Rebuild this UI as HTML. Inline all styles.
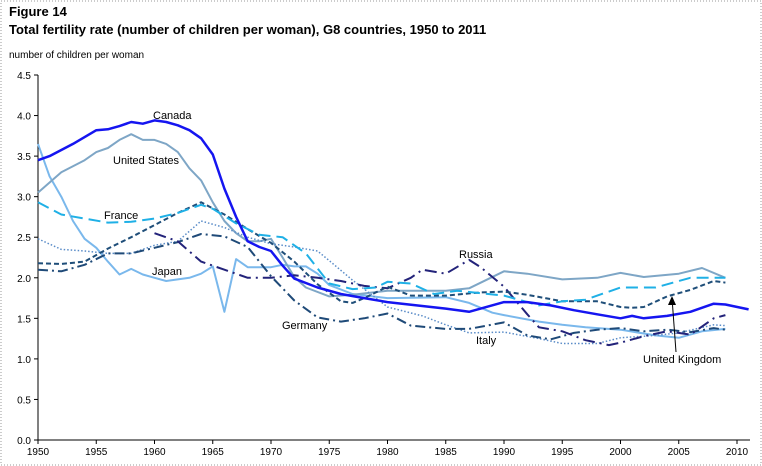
<!DOCTYPE html>
<html><head><meta charset="utf-8"><style>
body{margin:0;background:#fff;font-family:"Liberation Sans",Arial,sans-serif}
#wrap{position:relative;width:762px;height:466px}
.t{position:absolute;left:9px;font-weight:bold;font-size:13px;color:#000}
</style></head><body>
<div id="wrap">
<div class="t" style="top:4px">Figure 14</div>
<div class="t" style="top:22px">Total fertility rate (number of children per woman), G8 countries, 1950 to 2011</div>
<div style="position:absolute;left:9px;top:50px;font-size:10px">number of children per woman</div>
<svg id="c" width="762" height="466" style="position:absolute;left:0;top:0"></svg>
</div>
<script>
const yTicks=[0,0.5,1,1.5,2,2.5,3,3.5,4,4.5];
const xTicks=[1950,1955,1960,1965,1970,1975,1980,1985,1990,1995,2000,2005,2010];
const canadaYears=[1950,1951,1953,1955,1956,1957,1958,1959,1960,1961,1962,1963,1964,1965,1966,1967,1968,1969,1970,1971,1972,1974,1976,1978,1980,1985,1987,1990,1992,1994,1996,1998,2000,2001,2002,2004,2006,2008,2009,2011];
const canadaVals=[3.45,3.5,3.65,3.82,3.83,3.87,3.92,3.9,3.94,3.92,3.88,3.82,3.72,3.52,3.1,2.75,2.45,2.38,2.33,2.15,1.99,1.88,1.8,1.75,1.7,1.62,1.58,1.7,1.7,1.66,1.6,1.55,1.5,1.53,1.5,1.53,1.58,1.68,1.67,1.61];
const usYears=[1950,1952,1954,1955,1956,1957,1958,1959,1960,1961,1962,1963,1964,1965,1966,1967,1968,1969,1970,1971,1972,1973,1975,1977,1980,1985,1987,1990,1992,1995,1998,2000,2002,2005,2007,2009];
const usVals=[3.05,3.3,3.45,3.55,3.6,3.7,3.77,3.7,3.7,3.65,3.55,3.35,3.2,2.93,2.7,2.55,2.45,2.45,2.48,2.25,2.01,1.88,1.77,1.79,1.84,1.84,1.87,2.08,2.05,1.98,2.0,2.06,2.01,2.05,2.12,2.0];
const japanYears=[1950,1951,1952,1953,1954,1955,1956,1957,1958,1959,1960,1961,1962,1963,1964,1965,1966,1967,1968,1969,1970,1971,1972,1973,1974,1975,1977,1980,1985,1987,1989,1990,1993,1995,1997,2000,2003,2005,2007,2009];
const japanVals=[3.65,3.25,3.0,2.7,2.48,2.37,2.2,2.04,2.11,2.04,2.0,1.96,1.98,2.0,2.05,2.14,1.58,2.23,2.13,2.13,2.13,2.16,2.14,2.14,2.05,1.91,1.8,1.75,1.76,1.69,1.57,1.54,1.46,1.42,1.39,1.36,1.29,1.26,1.34,1.37];
const franceYears=[1950,1952,1954,1956,1958,1960,1962,1964,1965,1967,1969,1971,1973,1975,1977,1979,1980,1982,1984,1986,1988,1990,1993,1995,1997,2000,2003,2006,2009];
const franceVals=[2.93,2.78,2.73,2.68,2.69,2.73,2.8,2.9,2.85,2.67,2.53,2.5,2.3,1.93,1.86,1.88,1.95,1.93,1.8,1.84,1.81,1.78,1.66,1.71,1.73,1.88,1.88,2.0,2.0];
const ukYears=[1950,1952,1954,1956,1958,1960,1962,1964,1966,1968,1970,1972,1974,1976,1977,1978,1980,1982,1985,1988,1990,1992,1995,1998,2000,2001,2002,2004,2006,2008,2009];
const ukVals=[2.18,2.17,2.2,2.36,2.5,2.65,2.8,2.93,2.78,2.6,2.43,2.2,1.92,1.71,1.69,1.75,1.89,1.78,1.78,1.82,1.83,1.79,1.71,1.71,1.64,1.63,1.64,1.77,1.85,1.96,1.94];
const germanyYears=[1950,1952,1954,1956,1958,1960,1962,1964,1966,1968,1970,1972,1974,1976,1978,1980,1982,1985,1987,1990,1992,1994,1996,1998,2000,2002,2004,2006,2008,2009];
const germanyVals=[2.1,2.08,2.16,2.3,2.3,2.37,2.44,2.54,2.51,2.38,2.02,1.72,1.51,1.46,1.5,1.56,1.41,1.37,1.37,1.45,1.29,1.24,1.32,1.36,1.38,1.34,1.36,1.33,1.38,1.36];
const italyYears=[1950,1952,1954,1956,1958,1960,1962,1964,1966,1968,1970,1972,1974,1975,1977,1980,1983,1985,1987,1990,1993,1995,1998,2000,2003,2005,2008,2009];
const italyVals=[2.48,2.35,2.33,2.3,2.3,2.4,2.45,2.7,2.62,2.5,2.42,2.38,2.33,2.21,1.97,1.64,1.53,1.42,1.32,1.33,1.25,1.19,1.19,1.26,1.29,1.32,1.42,1.41];
const russiaYears=[1960,1962,1964,1966,1968,1970,1972,1974,1976,1978,1980,1982,1983,1985,1987,1988,1990,1992,1993,1995,1997,1999,2000,2002,2004,2006,2008,2009];
const russiaVals=[2.55,2.45,2.2,2.1,2.0,2.0,2.03,2.0,1.96,1.9,1.87,2.0,2.1,2.05,2.22,2.13,1.89,1.55,1.39,1.34,1.23,1.17,1.2,1.28,1.34,1.3,1.5,1.54];

const X0=38,X2010=737,XEND=750,Y0=440,Y1=75;
const xs=y=>X0+(y-1950)*(X2010-X0)/60;
const ys=v=>Y0-v*(Y0-Y1)/4.5;
const svg=document.getElementById('c');
const NS='http://www.w3.org/2000/svg';
function mk(t,a,p){const e=document.createElementNS(NS,t);for(const k in a)e.setAttribute(k,a[k]);(p||svg).appendChild(e);return e;}
const fr=mk('rect',{x:1,y:1,width:760,height:464,fill:'none',stroke:'#999','stroke-dasharray':'1,2'});


const ax=mk('line',{x1:X0,y1:Y1,x2:X0,y2:Y0,stroke:'#000'});


const axx=mk('line',{x1:X0,y1:Y0,x2:XEND,y2:Y0,stroke:'#000'});


yTicks.forEach(v=>{const y=ys(v);mk('line',{x1:X0-4,y1:y,x2:X0,y2:y,stroke:'#000'});
 const t=mk('text',{x:X0-7,y:y+4,'text-anchor':'end','font-size':10});t.textContent=v.toFixed(1);
 
 });
xTicks.forEach(v=>{const x=xs(v);mk('line',{x1:x,y1:Y0,x2:x,y2:Y0+4,stroke:'#000'});
 const t=mk('text',{x:x,y:Y0+15,'text-anchor':'middle','font-size':10});t.textContent=v;
 
 });
function line(name,yrs,vals,col,w,dash){
 const d=yrs.map((y,i)=>(i?'L':'M')+xs(y).toFixed(1)+','+ys(vals[i]).toFixed(1)).join('');
 const p=mk('path',{d:d,fill:'none',stroke:col,'stroke-width':w,'stroke-dasharray':dash||'none','stroke-linejoin':'round'});
 
 
}
line('series-japan',japanYears,japanVals,'#7ab8ec',2);
line('series-us',usYears,usVals,'#7ea6c6',2);
line('series-italy',italyYears,italyVals,'#5a8cc8',1.5,'1.5,2');
line('series-germany',germanyYears,germanyVals,'#1f4a78',2,'10,4,2,4');
line('series-russia',russiaYears,russiaVals,'#23237a',2,'12,5,2,5');
line('series-uk',ukYears,ukVals,'#1f4e79',2,'5,3');
line('series-france',franceYears,franceVals,'#1fb0e6',2,'12,6');
line('series-canada',canadaYears,canadaVals,'#1515f0',2.5);
function lab(txt,x,y,n){const t=mk('text',{x:x,y:y,'font-size':11});t.textContent=txt;
 
 }
lab('Canada',153,119,'label-canada');lab('United States',113,164,'label-us');
lab('France',104,219,'label-france');lab('Japan',152,275,'label-japan');
lab('Germany',282,329,'label-germany');lab('Russia',459,258,'label-russia');
lab('Italy',476,344,'label-italy');lab('United Kingdom',643,363,'label-uk');
const ar=mk('line',{x1:676,y1:352,x2:672,y2:298,stroke:'#000'});


const ah=mk('path',{d:'M672,296 L668,305 L676,305 Z',fill:'#000'});


</script>
</body></html>
